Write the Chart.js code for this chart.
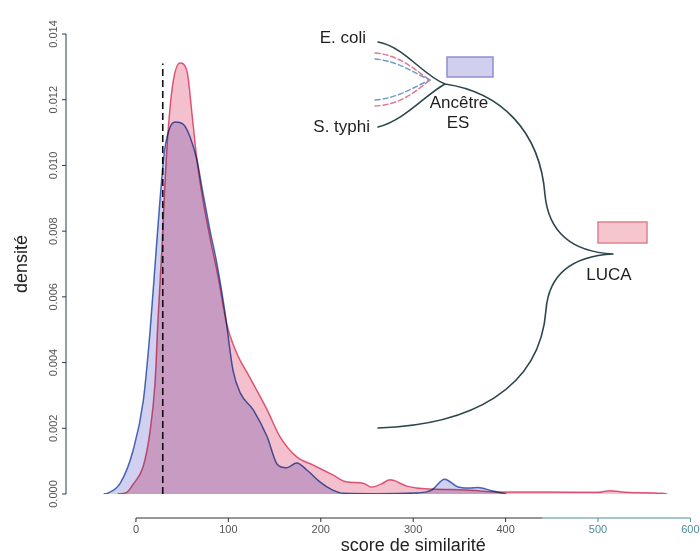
<!DOCTYPE html>
<html>
<head>
<meta charset="utf-8">
<script src="https://cdn.jsdelivr.net/npm/chart.js@4.4.0/dist/chart.umd.min.js"></script>
<style>
  html, body { margin: 0; padding: 0; background: #fff; }
</style>
</head>
<body>
<canvas id="densityChart" width="700" height="551"></canvas>
<script>
// densité des scores de similarité : ancêtre ES (bleu) et LUCA (rouge)
const esScores = [-35, -31, -17, -3, 8, 15, 20.5, 26, 31, 37, 43, 52, 58.5, 66, 72.5, 80, 87.5, 96, 105, 113,
  127, 142, 153, 163, 174, 185, 199, 213, 225, 260, 300, 320, 334, 348, 360, 370, 385, 401];
const esDensity = [0, 0.00002, 0.00033, 0.00134, 0.00286, 0.00487, 0.00691, 0.00895, 0.01047, 0.01117,
  0.01132, 0.01123, 0.01087, 0.01017, 0.00916, 0.00804, 0.00703, 0.0056, 0.00377, 0.00307,
  0.00256, 0.00174, 0.0009, 0.0008, 0.00094, 0.00073, 0.00037, 0.00012, 0.00002, 0.00001,
  0.00003, 0.00012, 0.00045, 0.00022, 0.00018, 0.0002, 0.0001, 0];

const lucaScores = [-20, -10, -3, 7.6, 15, 20.6, 24, 28, 31.4, 34.6, 40, 47.6, 55, 61, 66, 72.5, 80, 89, 98, 109,
  123, 142, 156, 174, 192, 213, 228, 246, 255, 265, 275, 293, 304, 321, 358, 394, 450, 500, 513, 530, 570, 575];
const lucaDensity = [0, 0.00005, 0.0003, 0.00082, 0.00186, 0.00338, 0.00539, 0.00743, 0.00947, 0.01099,
  0.01251, 0.01312, 0.0129, 0.01148, 0.01017, 0.00895, 0.00782, 0.0066, 0.0052, 0.00429,
  0.00356, 0.00256, 0.00174, 0.00113, 0.00088, 0.00058, 0.00037, 0.00033, 0.00021, 0.0003,
  0.00043, 0.00024, 0.00018, 0.00015, 0.00012, 0.00006, 0.00006, 0.00005, 0.0001, 0.00005, 0.00002, 0];

const thresholdScore = 29;
const thresholdTop = 0.0131;

const xTicks = [0, 100, 200, 300, 400, 500, 600];
const yTicks = [0, 0.002, 0.004, 0.006, 0.008, 0.010, 0.012, 0.014];

const FONT = "'Liberation Sans', Arial, sans-serif";

const toPoints = (xs, ys) => xs.map((x, i) => ({ x: x, y: ys[i] }));

// fond blanc puis les aires en mode "multiply" pour la zone violette
const background = {
  id: 'background',
  beforeDraw(chart) {
    const ctx = chart.ctx;
    ctx.save();
    ctx.fillStyle = '#fff';
    ctx.fillRect(0, 0, chart.width, chart.height);
    ctx.restore();
  }
};

const multiplyFill = {
  id: 'multiplyFill',
  beforeDatasetsDraw(chart) {
    chart.ctx.save();
    chart.ctx.globalCompositeOperation = 'multiply';
  },
  afterDatasetsDraw(chart) {
    chart.ctx.restore();
  }
};

// axes façon R, décalés de la zone de tracé
const rAxes = {
  id: 'rAxes',
  afterDraw(chart) {
    const { ctx, scales: { x, y } } = chart;
    const axisY = y.getPixelForValue(0) + 24;
    const axisX = x.getPixelForValue(-40) - 33;
    ctx.save();
    ctx.lineWidth = 1;
    ctx.font = '11px ' + FONT;

    // axe x
    const splitVal = 440;
    ctx.strokeStyle = '#2a2f33';
    ctx.beginPath();
    ctx.moveTo(x.getPixelForValue(xTicks[0]), axisY);
    ctx.lineTo(x.getPixelForValue(splitVal), axisY);
    ctx.stroke();
    ctx.strokeStyle = '#4f8c9c';
    ctx.beginPath();
    ctx.moveTo(x.getPixelForValue(splitVal), axisY);
    ctx.lineTo(x.getPixelForValue(xTicks[xTicks.length - 1]), axisY);
    ctx.stroke();
    ctx.textAlign = 'center';
    ctx.textBaseline = 'middle';
    xTicks.forEach(v => {
      const px = x.getPixelForValue(v);
      ctx.strokeStyle = v > splitVal ? '#4f8c9c' : '#2a2f33';
      ctx.beginPath();
      ctx.moveTo(px, axisY);
      ctx.lineTo(px, axisY + 4);
      ctx.stroke();
      ctx.fillStyle = v > splitVal ? '#4f8c9c' : '#555';
      ctx.fillText(String(v), px, axisY + 12);
    });

    // axe y
    ctx.strokeStyle = '#2a3a40';
    ctx.beginPath();
    ctx.moveTo(axisX, y.getPixelForValue(yTicks[0]));
    ctx.lineTo(axisX, y.getPixelForValue(yTicks[yTicks.length - 1]));
    ctx.stroke();
    ctx.fillStyle = '#555';
    yTicks.forEach(v => {
      const py = y.getPixelForValue(v);
      ctx.beginPath();
      ctx.moveTo(axisX, py);
      ctx.lineTo(axisX - 4, py);
      ctx.stroke();
      ctx.save();
      ctx.translate(axisX - 12, py);
      ctx.rotate(-Math.PI / 2);
      ctx.fillText(v.toFixed(3), 0, 0);
      ctx.restore();
    });

    // titres des axes
    ctx.fillStyle = '#222';
    ctx.font = '18px ' + FONT;
    ctx.fillText('score de similarité', x.getPixelForValue(300), axisY + 28);
    ctx.save();
    ctx.translate(22, y.getPixelForValue(0.007));
    ctx.rotate(-Math.PI / 2);
    ctx.fillText('densité', 0, 0);
    ctx.restore();
    ctx.restore();
  }
};

// petit arbre : E. coli / S. typhi -> Ancêtre ES -> LUCA
const treeSketch = {
  id: 'treeSketch',
  afterDraw(chart) {
    const ctx = chart.ctx;
    ctx.save();
    ctx.lineCap = 'round';

    // branches pointillées
    ctx.lineWidth = 1.5;
    ctx.setLineDash([5, 3]);
    const dashed = [
      ['#e07a8e', [375, 53, 400, 55, 415, 70, 430, 80]],
      ['#6e9ccf', [375, 59, 398, 61, 412, 72, 430, 80]],
      ['#6e9ccf', [375, 100, 398, 98, 412, 88, 430, 80]],
      ['#e07a8e', [375, 106, 400, 105, 415, 92, 430, 80]]
    ];
    dashed.forEach(([col, p]) => {
      ctx.strokeStyle = col;
      ctx.beginPath();
      ctx.moveTo(p[0], p[1]);
      ctx.bezierCurveTo(p[2], p[3], p[4], p[5], p[6], p[7]);
      ctx.stroke();
    });
    ctx.setLineDash([]);

    // branches pleines
    ctx.strokeStyle = '#2c454c';
    ctx.lineWidth = 1.6;
    ctx.beginPath();
    ctx.moveTo(378, 42);
    ctx.bezierCurveTo(405, 47, 422, 75, 445, 84);
    ctx.moveTo(378, 127);
    ctx.bezierCurveTo(405, 120, 425, 95, 445, 84);
    ctx.moveTo(445, 84);
    ctx.bezierCurveTo(500, 92, 540, 130, 545, 195);
    ctx.bezierCurveTo(549, 235, 575, 252, 613, 254);
    ctx.moveTo(378, 428);
    ctx.bezierCurveTo(470, 425, 540, 390, 546, 310);
    ctx.bezierCurveTo(549, 272, 575, 256, 613, 254);
    ctx.stroke();

    // rectangles
    ctx.lineWidth = 1.5;
    ctx.fillStyle = '#d0d0ee';
    ctx.strokeStyle = '#8f8fcf';
    ctx.fillRect(447, 57, 46, 20);
    ctx.strokeRect(447, 57, 46, 20);
    ctx.fillStyle = '#f6c6cf';
    ctx.strokeStyle = '#e0808f';
    ctx.fillRect(598, 222, 49, 21);
    ctx.strokeRect(598, 222, 49, 21);

    // étiquettes
    ctx.fillStyle = '#1e1e1e';
    ctx.font = '17px ' + FONT;
    ctx.textBaseline = 'middle';
    ctx.textAlign = 'right';
    ctx.fillText('E. coli', 366, 38);
    ctx.fillText('S. typhi', 370, 127);
    ctx.textAlign = 'center';
    ctx.fillText('Ancêtre', 459, 103);
    ctx.fillText('ES', 458, 123);
    ctx.fillText('LUCA', 609, 275);
    ctx.restore();
  }
};

const ctx = document.getElementById('densityChart').getContext('2d');
const densityChart = new Chart(ctx, {
  type: 'line',
  data: {
    datasets: [{
      label: 'seuil',
      data: toPoints([thresholdScore, thresholdScore], [0, thresholdTop]),
      borderColor: '#111',
      borderWidth: 1.6,
      borderDash: [7, 4],
      pointRadius: 0,
      fill: false,
      order: 0
    }, {
      label: 'Ancêtre ES',
      data: toPoints(esScores, esDensity),
      borderColor: '#4b6cb8',
      backgroundColor: '#d0d0f0',
      borderWidth: 1.5,
      pointRadius: 0,
      cubicInterpolationMode: 'monotone',
      fill: 'origin',
      order: 1
    }, {
      label: 'LUCA',
      data: toPoints(lucaScores, lucaDensity),
      borderColor: '#e4607f',
      backgroundColor: '#f5c0ce',
      borderWidth: 1.5,
      pointRadius: 0,
      cubicInterpolationMode: 'monotone',
      fill: 'origin',
      order: 2
    }]
  },
  options: {
    responsive: false,
    animation: false,
    layout: {
      padding: { left: 99, right: 9.6, top: 34, bottom: 57 }
    },
    scales: {
      x: { type: 'linear', min: -40, max: 600, display: false },
      y: { type: 'linear', min: 0, max: 0.014, display: false }
    },
    plugins: {
      legend: { display: false },
      tooltip: { enabled: false }
    }
  },
  plugins: [background, multiplyFill, rAxes, treeSketch]
});
</script>
</body>
</html>
